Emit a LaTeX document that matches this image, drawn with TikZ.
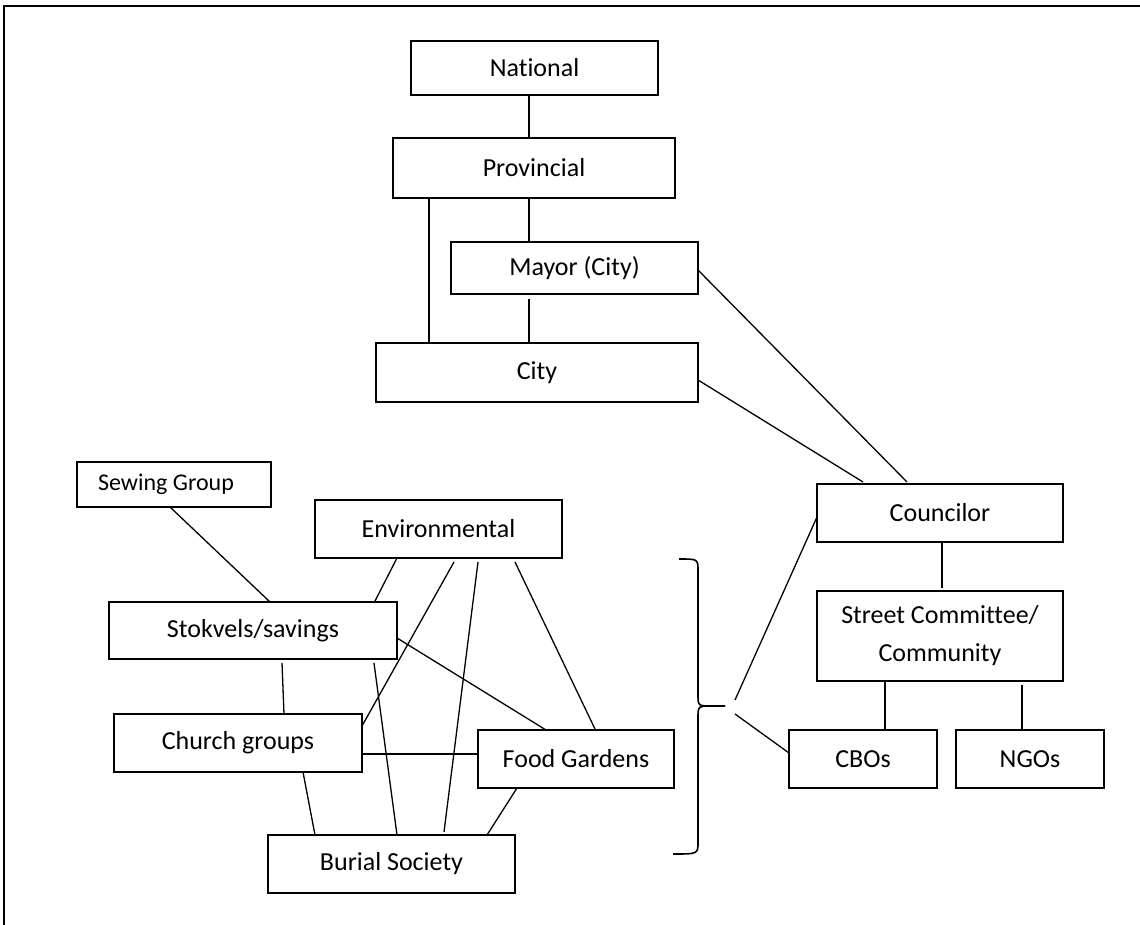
\documentclass[tikz,border=0pt]{standalone}
\usepackage{fontspec}
\setmainfont{Carlito}[Ligatures=NoCommon]
\usetikzlibrary{calc}
\tikzset{
  box/.style={draw, line width=1.6pt, inner sep=0pt, outer sep=0pt, align=center,
    font=\fontsize{26}{38}\selectfont},
  link/.style={line width=1.3pt},
  frameline/.style={line width=2pt},
}
\begin{document}
\begin{tikzpicture}[x=1pt,y=-1pt]
\useasboundingbox (0,0) rectangle (1140,925);
\draw[frameline] (4,925) -- (4,6) -- (1140,6);

% top hierarchy
\node[box, minimum width=247, minimum height=54] (nat) at (534.5,68) {National};
\node[box, minimum width=282, minimum height=60] (prov) at (534,168) {Provincial};
\node[box, minimum width=247, minimum height=52] (mayor) at (574.5,268) {Mayor (City)};
\node[box, minimum width=322, minimum height=59] (city) at (537,372.5) {City};

% right column
\node[box, minimum width=246, minimum height=58] (coun) at (940,513) {Councilor};
\node[box, minimum width=246, minimum height=90] (street) at (940,636) {Street Committee/\\Community};
\node[box, minimum width=148, minimum height=58] (cbo) at (863,759) {CBOs};
\node[box, minimum width=148, minimum height=58] (ngo) at (1030,759) {NGOs};

% community groups
\node[box, minimum width=194, minimum height=45, font=\fontsize{24}{30}\selectfont] (sew) at (174,484.5) {\hspace*{-16pt}Sewing Group};
\node[box, minimum width=247, minimum height=58] (env) at (438.5,529) {Environmental};
\node[box, minimum width=288, minimum height=57] (stok) at (253,630.5) {Stokvels/savings};
\node[box, minimum width=248, minimum height=58] (church) at (238,743) {Church groups};
\node[box, minimum width=196, minimum height=58] (food) at (576,759) {Food Gardens};
\node[box, minimum width=247, minimum height=58] (burial) at (391.5,864) {Burial Society};

% brace
\coordinate (bt) at (725,706);
\draw[line width=1.6pt]
  (679,559) .. controls (698,559) .. (698,571) -- (698,694)
  .. controls (698,706) .. (712,706) -- (bt);
\draw[line width=1.6pt]
  (bt) -- (712,706) .. controls (698,706) .. (698,718) -- (698,842)
  .. controls (698,854) .. (673,854);

% top links
\draw[link] ($(nat.south)+(-5.5,0)$) -- ($(prov.north)+(-5,0)$);
\draw[link] ($(prov.south west)+(136,0)$) -- ($(mayor.north west)+(78,0)$);
\draw[link] ($(prov.south west)+(36,0)$) -- ($(city.north west)+(53,0)$);
\draw[link] ($(mayor.south west)+(78,5)$) -- ($(city.north west)+(153,0)$);
\draw[link] ($(mayor.north east)+(0,28)$) -- ($(coun.north west)+(90,-2)$);
\draw[link] ($(city.north east)+(0,37)$) -- ($(coun.north west)+(46,-2)$);

% right links
\draw[link] ($(coun.south west)+(125,0)$) -- ($(street.north west)+(125,-3)$);
\draw[link] ($(street.south west)+(68,0)$) -- ($(cbo.north west)+(96,0)$);
\draw[link] ($(street.south west)+(205,4)$) -- ($(ngo.north west)+(66,0)$);
\draw[link] ($(bt)+(10,-6)$) -- ($(coun.north west)+(0,33)$);
\draw[link] ($(bt)+(10,8)$) -- ($(cbo.north west)+(0,23)$);

% community links
\draw[link] ($(sew.south west)+(93,0)$) -- ($(stok.north west)+(161,0)$);
\draw[link] ($(env.south west)+(82,0)$) -- ($(stok.north west)+(265,1)$);
\draw[link] ($(env.south west)+(139,4)$) -- ($(church.north east)+(0,12)$);
\draw[link] ($(env.south west)+(163,4)$) -- ($(burial.north west)+(176,-3)$);
\draw[link] ($(env.south west)+(200,4)$) -- ($(food.north west)+(117,-1)$);
\draw[link] ($(stok.north east)+(0,36)$) -- ($(food.north west)+(68,0)$);
\draw[link] ($(stok.south west)+(173,4)$) -- ($(church.north west)+(170,0)$);
\draw[link] ($(stok.south west)+(265,4)$) -- ($(burial.north west)+(129,0)$);
\draw[link] ($(church.north east)+(0,40)$) -- ($(food.north west)+(0,24)$);
\draw[link] ($(church.south west)+(189,0)$) -- ($(burial.north west)+(47,0)$);
\draw[link] ($(food.south west)+(39,0)$) -- ($(burial.north west)+(219,0)$);
\end{tikzpicture}
\end{document}
